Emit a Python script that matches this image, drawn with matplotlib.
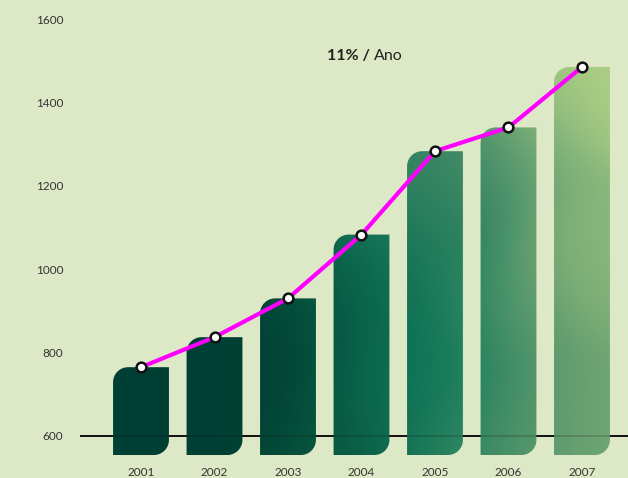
import matplotlib.pyplot as plt
import numpy as np
from matplotlib.path import Path
from matplotlib.patches import PathPatch
from matplotlib.colors import to_rgb

# ---------------- data ----------------
years = ["2001", "2002", "2003", "2004", "2005", "2006", "2007"]
values = [765, 837, 930, 1083, 1283, 1340, 1485]
yticks = [600, 800, 1000, 1200, 1400, 1600]

bg = "#dde9c6"
plt.rcParams['font.family'] = ['Lato', 'DejaVu Sans']

W, H = 628, 478
fig = plt.figure(figsize=(W / 100, H / 100), dpi=100, facecolor=bg)
ax_l, ax_b = 80, 23           # pixels
ax = fig.add_axes([ax_l / W, ax_b / H, (W - ax_l) / W, (H - ax_b) / H])
ax.set_facecolor(bg)

xlo, xhi = -0.83, 6.626
ylo, yhi = 554.4, 1645.6
ax.set_xlim(xlo, xhi)
ax.set_ylim(ylo, yhi)

# ---------------- bar shapes (rounded top-left / bottom-right) ----------------
bw = 0.76
rx = 15 / 73.5
ry = 15 / 0.417
k = 0.5523

def leaf(xc, top, bottom):
    x0, x1 = xc - bw / 2, xc + bw / 2
    verts = [
        (x0, bottom),
        (x1 - rx, bottom),
        (x1 - rx + k * rx, bottom), (x1, bottom + ry - k * ry), (x1, bottom + ry),
        (x1, top),
        (x0 + rx, top),
        (x0 + rx - k * rx, top), (x0, top - ry + k * ry), (x0, top - ry),
        (x0, bottom),
        (x0, bottom),
    ]
    codes = [Path.MOVETO, Path.LINETO,
             Path.CURVE4, Path.CURVE4, Path.CURVE4,
             Path.LINETO, Path.LINETO,
             Path.CURVE4, Path.CURVE4, Path.CURVE4,
             Path.LINETO, Path.CLOSEPOLY]
    return Path(verts, codes)

xs = np.arange(len(years))
paths = [leaf(x, v, ylo) for x, v in zip(xs, values)]
compound = Path.make_compound_path(*paths)
clip = PathPatch(compound, facecolor="none", edgecolor="none", transform=ax.transData)
ax.add_patch(clip)

# colour field behind the bars (pixel anchors -> colour, gaussian blend)
anchors = [
    (120, 400, "#003f33"), (140, 380, "#003f33"), (215, 400, "#003f33"),
    (215, 345, "#003f33"), (280, 380, "#013f33"), (300, 320, "#024234"),
    (340, 440, "#09573f"), (345, 300, "#0a6248"), (385, 250, "#0a7054"),
    (370, 380, "#0a6a4f"), (415, 380, "#0e7858"), (440, 300, "#0f7b5a"),
    (455, 420, "#0d7b5b"), (450, 220, "#2a7f5f"), (455, 160, "#3c8764"),
    (415, 170, "#358362"), (487, 440, "#438b66"), (530, 440, "#56946b"),
    (510, 300, "#5f9a6e"), (520, 140, "#6ea676"), (560, 440, "#68a070"),
    (605, 440, "#7cad77"), (580, 250, "#8bb77b"), (605, 75, "#b6d686"),
    (560, 80, "#9fc581"),
]
ph, pw = H - ax_b, W - ax_l
py, px = np.mgrid[0:ph, 0:pw]
px = px + ax_l
num = np.zeros((ph, pw, 3))
den = np.zeros((ph, pw))
sig = 48.0
for ax_x, ax_y, c in anchors:
    w = np.exp(-((px - ax_x) ** 2 + (py - ax_y) ** 2) / (2 * sig ** 2)) + 1e-12
    num += w[..., None] * np.array(to_rgb(c))
    den += w
field = num / den[..., None]
img = ax.imshow(field, extent=(xlo, xhi, ylo, yhi), origin="upper",
                aspect="auto", zorder=2, interpolation="bilinear")
img.set_clip_path(clip)

# baseline at 600
ax.axhline(600, color="#111111", lw=1.4, zorder=1)
ax.axhline(600, color="#111111", lw=1.4, alpha=0.18, zorder=3)

# ---------------- line ----------------
ax.plot(xs, values, color="#ff00ff", lw=3, zorder=4,
        marker="o", markersize=7, markerfacecolor="white",
        markeredgecolor="#111111", markeredgewidth=1.8)

# ---------------- axes styling ----------------
for s in ax.spines.values():
    s.set_visible(False)
ax.set_yticks(yticks)
ax.set_yticklabels([str(v) for v in yticks])
ax.set_xticks(xs)
ax.set_xticklabels(years)
ax.tick_params(axis="y", length=0, pad=12, labelsize=8.5, labelcolor="#333333")
ax.tick_params(axis="x", length=0, pad=9, labelsize=8.5, labelcolor="#333333")

fig.text(370 / W, 1 - 56 / H, "11% /", ha="right", va="center",
         fontsize=11.5, fontweight="bold", color="#222222")
fig.text(374 / W, 1 - 56 / H, "Ano", ha="left", va="center",
         fontsize=11.5, color="#222222")

fig.savefig("out.png", dpi=100, facecolor=bg)
